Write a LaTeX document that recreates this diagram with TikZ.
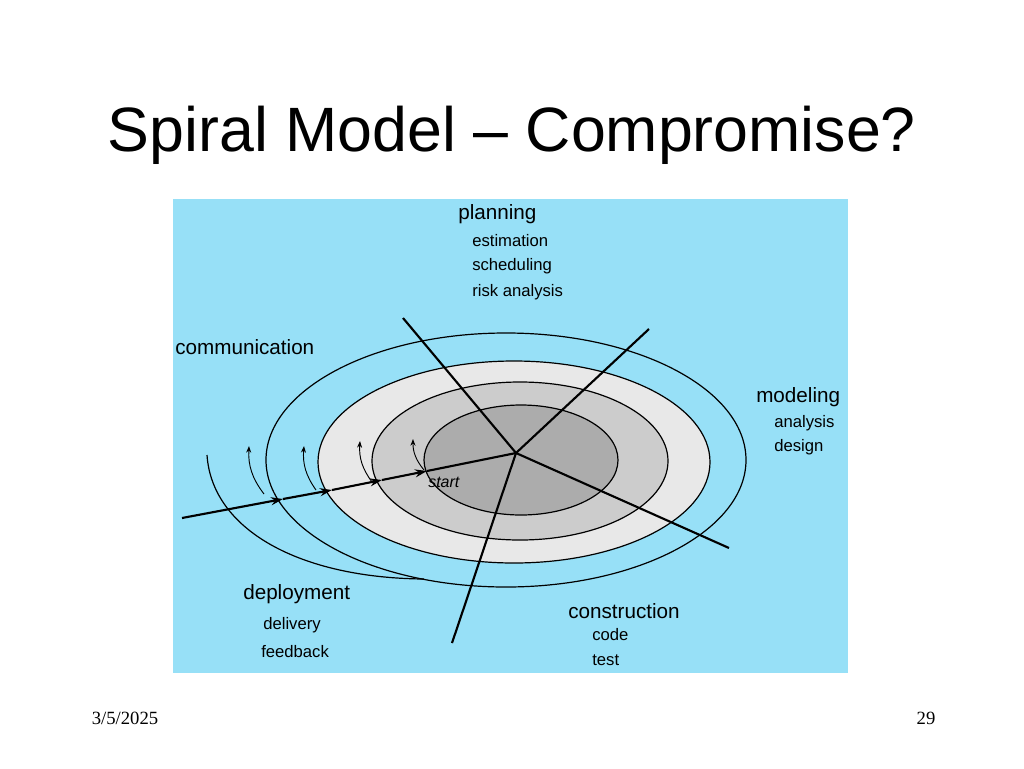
\documentclass[tikz,border=0pt]{standalone}
\usepackage{fontspec}
\setmainfont{Liberation Serif}
\setsansfont{Liberation Sans}
\usetikzlibrary{arrows.meta}
\definecolor{skyblue}{HTML}{97E0F7}
\begin{document}
\begin{tikzpicture}
    [
        x = 0.75pt, y = -0.75pt,
        every node/.append style = {font = \sffamily, inner sep = 0pt},
        phase/.style = {anchor = west, font = \sffamily\fontsize{15.5}{15}\selectfont},
        task/.style = {anchor = west, font = \sffamily\fontsize{12.5}{12}\selectfont},
        ring/.style = {draw, line width = 0.9pt},
        spoke/.style = {line width = 1.6pt},
        turn/.style = {-{Stealth[length = 5pt]}, line width = 0.7pt},
        inward/.style = {-{Stealth[length = 9pt, width = 6pt]}, line width = 1.6pt}]

    \useasboundingbox (0,0) rectangle (1024,768);
    \node (title) at (512,135) {\fontsize{47}{47}\selectfont Spiral Model -- Compromise?};

    \fill [skyblue] (173,199) rectangle (848,673);
    % outer turns of the spiral
    \coordinate (tail) at (207,455);
    \coordinate (merge) at (424,579);
    \draw [line width = 0.9pt] (tail) .. controls (212,530) and (300,578) .. (merge);
    \draw [line width = 0.9pt] (506,460) ellipse [x radius = 240, y radius = 127];
    \filldraw [ring, fill = gray!18] (514,462) ellipse [x radius = 196, y radius = 101];
    \filldraw [ring, fill = gray!40] (520,461) ellipse [x radius = 148, y radius = 79];
    \filldraw [ring, fill = gray!65] (521,460) ellipse [x radius = 97, y radius = 55];

    % small turn arrows
    \draw [turn] (264,494) to [bend left = 20] (249,446);
    \draw [turn] (316,490) to [bend left = 20] (304,446);
    \draw [turn] (372,482) to [bend left = 20] (360,441);
    \draw [turn] (424,470) to [bend left = 20] (413,439);

    % spokes
    \coordinate (hub) at (516,453);
    \coordinate (s0) at (182,518);
    \coordinate (s1) at (283,499);
    \coordinate (s2) at (332,490);
    \coordinate (s3) at (382,480);
    \coordinate (s4) at (427,471);
    \coordinate (plan) at (403,318);
    \coordinate (model) at (649,329);
    \coordinate (build) at (729,548);
    \coordinate (ship) at (452,643);
    \draw [spoke] (hub) -- (plan);
    \draw [spoke] (hub) -- (model);
    \draw [spoke] (hub) -- (build);
    \draw [spoke] (hub) -- (ship);
    \draw [spoke] (s4) -- (hub);
    \draw [inward] (s0) -- (s1);
    \draw [inward] (s1) -- (s2);
    \draw [inward] (s2) -- (s3);
    \draw [inward] (s3) -- (s4);
    \node [anchor = west, font = \sffamily\itshape\fontsize{12}{12}\selectfont] (start) at (428,482) {start};

    % labels
    \node [phase] (planning) at (458,214) {planning};
    \node [task] (estimation) at (472,241) {estimation};
    \node [task] (scheduling) at (472,266) {scheduling};
    \node [task] (risk) at (472,292) {risk analysis};
    \node [phase] (communication) at (175,347) {communication};
    \node [phase] (modeling) at (756,397) {modeling};
    \node [task] (analysis) at (774,423) {analysis};
    \node [task] (design) at (774,447) {design};
    \node [phase] (deployment) at (243,594) {deployment};
    \node [task] (delivery) at (263,625) {delivery};
    \node [task] (feedback) at (261,652) {feedback};
    \node [phase] (construction) at (568,611) {construction};
    \node [task] (code) at (592,635) {code};
    \node [task] (test) at (592,660) {test};

    \node [font = \rmfamily\fontsize{14}{14}\selectfont] (date) at (125,718) {3/5/2025};
    \node [font = \rmfamily\fontsize{14}{14}\selectfont] (page) at (926,718) {29};
\end{tikzpicture}
\end{document}
